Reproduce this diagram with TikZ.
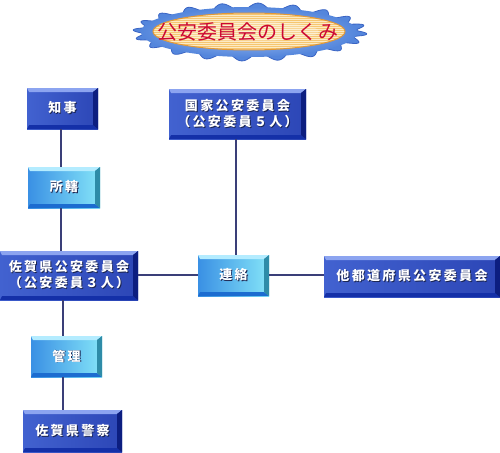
\documentclass[tikz,border=0pt]{standalone}
\usepackage{fontspec}
\newfontfamily\jpfont{Noto Sans CJK JP}
\newfontfamily\boxfont[LetterSpace=18]{Noto Sans CJK JP}
\definecolor{dkL}{HTML}{4262D0}
\definecolor{dkR}{HTML}{2C46B6}
\definecolor{dkTop}{HTML}{8CA4F0}
\definecolor{dkBot}{HTML}{1430A8}
\definecolor{dkRight}{HTML}{0C1E80}
\definecolor{ltL}{HTML}{3A90E4}
\definecolor{ltR}{HTML}{84E4F8}
\definecolor{ltTop}{HTML}{B4ECFF}
\definecolor{ltBot}{HTML}{1C6CD0}
\definecolor{ltRight}{HTML}{2E8CA8}
\definecolor{linec}{HTML}{3A3F78}
\definecolor{titlered}{HTML}{CC0833}
\definecolor{burstin}{HTML}{A8C4F2}
\definecolor{burstout}{HTML}{5486DC}
\definecolor{burstedge}{HTML}{3A64C4}
\definecolor{ovalA}{HTML}{F6C670}
\definecolor{ovalB}{HTML}{FCEAC4}
\definecolor{ovaledge}{HTML}{E29838}
\definecolor{shadowc}{HTML}{1A2450}
\newcommand\shtxt[1]{\leavevmode\rlap{\kern0.9pt\raisebox{-0.9pt}{\textcolor{shadowc}{#1}}}#1}
\tikzset{
  bevel/.style n args={5}{rectangle, inner sep=0pt, align=center,
    font=\boxfont\bfseries\fontsize{13}{16}\selectfont, text=white,
    left color=#1, right color=#2,
    path picture={
      \fill[#3] (path picture bounding box.north west) -- (path picture bounding box.north east)
        -- ([shift={(-5pt,-4pt)}]path picture bounding box.north east)
        -- ([shift={(2pt,-4pt)}]path picture bounding box.north west) -- cycle;
      \fill[#4] (path picture bounding box.south west) -- (path picture bounding box.south east)
        -- ([shift={(-5pt,4pt)}]path picture bounding box.south east)
        -- ([shift={(2pt,4pt)}]path picture bounding box.south west) -- cycle;
      \fill[#5] (path picture bounding box.north east) -- (path picture bounding box.south east)
        -- ([shift={(-5pt,4pt)}]path picture bounding box.south east)
        -- ([shift={(-5pt,-4pt)}]path picture bounding box.north east) -- cycle;
    }},
  darkbox/.style={bevel={dkL}{dkR}{dkTop}{dkBot}{dkRight}},
  lightbox/.style={bevel={ltL}{ltR}{ltTop}{ltBot}{ltRight}},
  conn/.style={draw=linec, line width=1.3pt},
}
\begin{document}
\begin{tikzpicture}[x=1pt,y=-1pt]
\useasboundingbox (0,0) rectangle (500,452);
% title burst
\filldraw[fill=burstout, draw=burstedge, line width=0.8pt]
  plot[domain=0:360, samples=400, smooth] ({250+(112+5*sin(20*\x+9))*cos(\x)},{32+(25+4*sin(20*\x+9))*sin(\x)}) -- cycle;
\shade[inner color=burstin, outer color=burstout] (249,32) ellipse [x radius=108, y radius=25];
\begin{scope}
  \clip (249,31.5) ellipse [x radius=96, y radius=18.5];
  \fill[ovalA] (150,12) rectangle (350,51);
  \foreach \yy in {13.5,15.5,...,50} \draw[ovalB, line width=0.9pt] (150,\yy) -- (350,\yy);
  \shade[inner color=white, outer color=white, opacity=0.25] (249,31.5) ellipse [x radius=70, y radius=10];
\end{scope}
\draw[ovaledge, line width=1pt] (249,31.5) ellipse [x radius=96, y radius=18.5];
\node[inner sep=0pt, font=\jpfont\fontsize{20}{22}\selectfont, text=titlered] (title) at (248,31.5) {公安委員会のしくみ};
% boxes
\node[darkbox, minimum width=71pt, minimum height=41pt] (chiji) at (62.5,108.5) {\shtxt{知事}};
\node[darkbox, minimum width=137pt, minimum height=50pt] (kokka) at (237.5,114) {\shtxt{国家公安委員会}\\\shtxt{（公安委員５人）}};
\node[lightbox, minimum width=72pt, minimum height=41pt] (shokatsu) at (64,187.5) {\shtxt{所轄}};
\node[darkbox, minimum width=138pt, minimum height=49pt] (saga) at (69,275.5) {\shtxt{佐賀県公安委員会}\\\shtxt{（公安委員３人）}};
\node[lightbox, minimum width=71pt, minimum height=41pt] (renraku) at (233.5,275.5) {\shtxt{連絡}};
\node[darkbox, minimum width=176pt, minimum height=41pt] (other) at (412,276.5) {\shtxt{他都道府県公安委員会}};
\node[lightbox, minimum width=71pt, minimum height=41pt] (kanri) at (66.5,356.5) {\shtxt{管理}};
\node[darkbox, minimum width=99pt, minimum height=42pt] (police) at (72.5,431) {\shtxt{佐賀県警察}};
% connectors
\coordinate (c1) at (61,0);
\coordinate (c2) at (63,0);
\coordinate (c3) at (236,0);
\coordinate (c4) at (0,275);
\draw[conn] (chiji.south -| c1) -- (shokatsu.north -| c1);
\draw[conn] (shokatsu.south -| c1) -- (saga.north -| c1);
\draw[conn] (saga.south -| c2) -- (kanri.north -| c2);
\draw[conn] (kanri.south -| c2) -- (police.north -| c2);
\draw[conn] (kokka.south -| c3) -- (renraku.north -| c3);
\draw[conn] (saga.east |- c4) -- (renraku.west |- c4);
\draw[conn] (renraku.east |- c4) -- (other.west |- c4);
\end{tikzpicture}
\end{document}
